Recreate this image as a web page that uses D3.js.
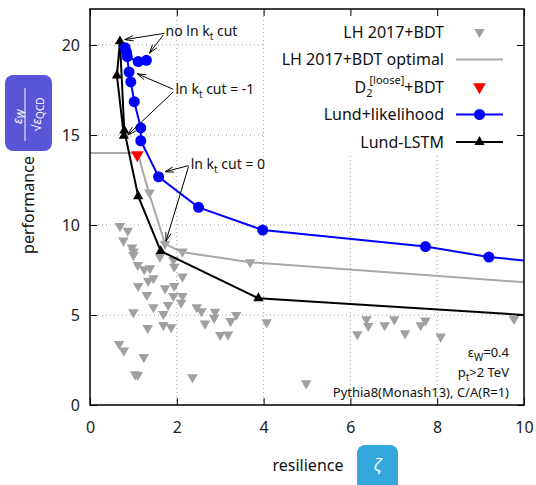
<!DOCTYPE html>
<html>
<head>
<meta charset="utf-8">
<script src="https://cdn.jsdelivr.net/npm/d3@7"></script>
<style>
  body { margin: 0; background: #fff; }
  text { font-family: "Noto Sans", sans-serif; }
</style>
</head>
<body>
<svg width="536" height="485"></svg>
<script>
// tick values for both axes
var xTicks = [0, 2, 4, 6, 8, 10];
var yTicks = [0, 5, 10, 15, 20];

// LH 2017 + BDT scan (grey triangles)
var lhScatter = [
  [0.69, 9.94], [0.87, 9.68], [0.77, 9.13], [0.97, 8.75], [1.0, 8.52], [1.0, 8.33],
  [1.1, 7.78], [1.25, 7.54], [1.38, 7.59], [1.61, 8.24], [1.92, 8.06], [2.13, 8.52],
  [1.94, 7.68], [2.13, 7.13], [1.34, 6.9], [1.46, 7.04], [1.11, 6.61], [1.73, 6.48],
  [1.94, 6.61], [1.31, 6.11], [1.92, 6.06], [2.13, 6.06], [1.46, 5.43], [1.8, 5.56],
  [2.1, 5.68], [1.0, 5.15], [1.69, 5.06], [2.46, 5.43], [2.57, 5.2], [2.88, 5.18],
  [2.86, 4.84], [3.24, 4.66], [3.37, 5.0], [2.65, 4.52], [1.33, 4.27], [1.69, 4.44],
  [1.87, 4.32], [3.0, 3.89], [3.18, 3.91], [0.67, 3.39], [0.78, 3.02], [1.24, 2.66],
  [1.04, 1.7], [1.1, 1.67], [2.36, 1.54], [4.07, 4.59], [4.98, 1.2], [6.37, 4.76],
  [6.41, 4.39], [6.16, 3.93], [6.79, 4.43], [7.01, 4.76], [7.26, 3.98], [7.62, 4.43],
  [7.73, 4.69], [8.08, 3.8], [9.77, 4.78], [1.37, 11.8], [3.69, 7.93], [1.73, 8.95]
];
// optimal envelope of the scan
var lhOptimal = [
  [0, 14.0], [1.1, 14.0], [1.35, 11.85], [1.73, 8.95], [2.11, 8.5], [3.69, 7.93], [10.6, 6.72]
];
// D2 loose + BDT
var d2Point = [[1.09, 13.9]];
// Lund + likelihood
var lundLike = [
  [1.30, 19.15], [1.11, 19.08], [0.86, 19.35], [0.81, 19.85], [0.84, 19.6], [0.90, 18.5],
  [0.94, 17.95], [1.02, 16.85], [1.17, 15.4], [1.17, 14.68], [1.58, 12.68], [2.5, 10.98],
  [3.98, 9.72], [7.73, 8.8], [9.19, 8.22], [11.0, 7.8]
];
// Lund-LSTM
var lundLstm = [
  [0.78, 14.95], [0.62, 18.3], [0.69, 20.2], [0.79, 15.25], [1.11, 11.6], [1.63, 8.55],
  [3.88, 5.93], [11.0, 4.85]
];

// annotation labels and their arrows (data coords: from x,y to x,y)
var noteLabels = [
  { x: 1.74, y: 20.5, a: "no ln k", b: " cut" },
  { x: 1.97, y: 17.28, a: "ln k", b: " cut = -1" },
  { x: 2.32, y: 13.09, a: "ln k", b: " cut = 0" }
];
var noteArrows = [
  [1.72, 20.65, 0.8, 20.3], [1.69, 20.56, 1.37, 19.55],
  [1.92, 17.54, 1.09, 18.4], [1.92, 17.4, 0.87, 15.0],
  [2.27, 13.3, 1.73, 12.96], [2.27, 13.24, 1.75, 9.1]
];

var width = 536, height = 485;
var svg = d3.select("svg");

var x = d3.scaleLinear().domain([0, 10]).range([90, 524]);
var y = d3.scaleLinear().domain([0, 22]).range([405, 9]);

svg.append("defs").append("clipPath").attr("id", "plot")
  .append("rect").attr("x", 90).attr("y", 9).attr("width", 434).attr("height", 396);

// dotted grid
var grid = svg.append("g").attr("stroke", "#a0a0a0").attr("stroke-dasharray", "1,3");
grid.selectAll(".gx").data(xTicks.slice(1, -1)).enter().append("line")
  .attr("x1", d => x(d)).attr("x2", d => x(d)).attr("y1", y(0)).attr("y2", y(22));
grid.selectAll(".gy").data(yTicks.slice(1)).enter().append("line")
  .attr("x1", x(0)).attr("x2", x(10)).attr("y1", d => y(d)).attr("y2", d => y(d));

// key is opaque, hides the grid behind it
svg.append("rect").attr("x", 266).attr("y", 10).attr("width", 257).attr("height", 146).attr("fill", "#fff");

// axes with inward ticks
function styleAxis(g) {
  g.select(".domain").remove();
  g.selectAll(".tick line").attr("stroke", "#000");
  g.selectAll(".tick text").attr("font-size", 16).attr("fill", "#222")
    .attr("font-family", "'Noto Sans', sans-serif");
}
svg.append("g").attr("transform", "translate(0,405)")
  .call(d3.axisBottom(x).tickValues(xTicks).tickSize(-7).tickPadding(17).tickFormat(d3.format("d")))
  .call(styleAxis);
svg.append("g").attr("transform", "translate(0,9)")
  .call(d3.axisTop(x).tickValues(xTicks).tickSize(-7).tickFormat(""))
  .call(styleAxis);
svg.append("g").attr("transform", "translate(90,0)")
  .call(d3.axisLeft(y).tickValues(yTicks).tickSize(-7).tickPadding(10).tickFormat(d3.format("d")))
  .call(styleAxis);
svg.append("g").attr("transform", "translate(524,0)")
  .call(d3.axisRight(y).tickValues(yTicks).tickSize(-7).tickFormat(""))
  .call(styleAxis);

var plot = svg.append("g").attr("clip-path", "url(#plot)");
var line = d3.line().x(d => x(d[0])).y(d => y(d[1]));
var triDown = d3.symbol().type(d3.symbolTriangle);

// grey scan points
plot.selectAll(".lh").data(lhScatter).enter().append("path")
  .attr("d", triDown.size(48)())
  .attr("transform", d => "translate(" + x(d[0]) + "," + y(d[1]) + ") rotate(180)")
  .attr("fill", "#a0a0a0");

plot.append("path").datum(lhOptimal).attr("d", line)
  .attr("fill", "none").attr("stroke", "#a8a8a8").attr("stroke-width", 2);

plot.append("path").datum(lundLstm).attr("d", line)
  .attr("fill", "none").attr("stroke", "#000").attr("stroke-width", 2);
plot.selectAll(".lstm").data(lundLstm).enter().append("path")
  .attr("d", d3.symbol().type(d3.symbolTriangle).size(45)())
  .attr("transform", d => "translate(" + x(d[0]) + "," + y(d[1]) + ")")
  .attr("fill", "#000");

plot.append("path").datum(lundLike).attr("d", line)
  .attr("fill", "none").attr("stroke", "#0000ff").attr("stroke-width", 2);
plot.selectAll(".like").data(lundLike).enter().append("circle")
  .attr("cx", d => x(d[0])).attr("cy", d => y(d[1])).attr("r", 5.5)
  .attr("fill", "#0000ff");

plot.selectAll(".d2").data(d2Point).enter().append("path")
  .attr("d", d3.symbol().type(d3.symbolTriangle).size(70)())
  .attr("transform", d => "translate(" + x(d[0]) + "," + y(d[1]) + ") rotate(180)")
  .attr("fill", "#ff0000");

// border
svg.append("rect").attr("x", 90).attr("y", 9).attr("width", 434).attr("height", 396)
  .attr("fill", "none").attr("stroke", "#000").attr("stroke-width", 1.5);

// annotations
noteArrows.forEach(function (a) {
  var x1 = x(a[0]), y1 = y(a[1]), x2 = x(a[2]), y2 = y(a[3]);
  var ang = Math.atan2(y2 - y1, x2 - x1), L = 9, w = 0.3;
  svg.append("path")
    .attr("d", "M" + x1 + "," + y1 + "L" + x2 + "," + y2 +
      "M" + (x2 - L * Math.cos(ang - w)) + "," + (y2 - L * Math.sin(ang - w)) +
      "L" + x2 + "," + y2 +
      "L" + (x2 - L * Math.cos(ang + w)) + "," + (y2 - L * Math.sin(ang + w)))
    .attr("fill", "none").attr("stroke", "#000").attr("stroke-width", 1);
});
noteLabels.forEach(function (n) {
  var t = svg.append("text").attr("x", x(n.x)).attr("y", y(n.y))
    .attr("font-size", 14).attr("fill", "#111");
  t.append("tspan").text(n.a);
  t.append("tspan").attr("font-size", 10).attr("dy", 4).text("t");
  t.append("tspan").attr("dy", -4).text(n.b);
});

// legend
var keyRows = [32, 59.5, 87, 114.5, 142];
var key = svg.append("g").attr("font-size", 16).attr("fill", "#111");
function keyText(i) {
  return key.append("text").attr("x", 444).attr("y", keyRows[i]).attr("dy", "0.35em")
    .attr("text-anchor", "end").attr("font-size", 16).attr("fill", "#111");
}
keyText(0).text("LH 2017+BDT");
key.append("path").attr("d", triDown.size(48)())
  .attr("transform", "translate(479.5," + keyRows[0] + ") rotate(180)").attr("fill", "#a0a0a0");
keyText(1).text("LH 2017+BDT optimal");
key.append("line").attr("x1", 456).attr("x2", 503).attr("y1", keyRows[1]).attr("y2", keyRows[1])
  .attr("stroke", "#a8a8a8").attr("stroke-width", 2);
var d2t = keyText(2);
d2t.append("tspan").text("D");
d2t.append("tspan").attr("font-size", 11).attr("dy", 4).text("2");
d2t.append("tspan").attr("font-size", 11).attr("dx", -3).attr("dy", -12.5).text("[loose]");
d2t.append("tspan").attr("dy", 8.5).text("+BDT");
key.append("path").attr("d", d3.symbol().type(d3.symbolTriangle).size(70)())
  .attr("transform", "translate(479.5," + keyRows[2] + ") rotate(180)").attr("fill", "#ff0000");
keyText(3).text("Lund+likelihood");
key.append("line").attr("x1", 456).attr("x2", 503).attr("y1", keyRows[3]).attr("y2", keyRows[3])
  .attr("stroke", "#0000ff").attr("stroke-width", 2);
key.append("circle").attr("cx", 479.5).attr("cy", keyRows[3]).attr("r", 5.5).attr("fill", "#0000ff");
keyText(4).text("Lund-LSTM");
key.append("line").attr("x1", 456).attr("x2", 503).attr("y1", keyRows[4]).attr("y2", keyRows[4])
  .attr("stroke", "#000").attr("stroke-width", 2);
key.append("path").attr("d", d3.symbol().type(d3.symbolTriangle).size(45)())
  .attr("transform", "translate(479.5," + keyRows[4] + ")").attr("fill", "#000");

// info text, bottom right
var info = svg.append("g").attr("font-size", 13).attr("fill", "#111").attr("text-anchor", "end");
var i1 = info.append("text").attr("x", 509).attr("y", 357);
i1.append("tspan").text("ε");
i1.append("tspan").attr("font-size", 10).attr("dy", 4).text("W");
i1.append("tspan").attr("dy", -4).text("=0.4");
var i2 = info.append("text").attr("x", 509).attr("y", 377);
i2.append("tspan").text("p");
i2.append("tspan").attr("font-size", 10).attr("dy", 4).text("t");
i2.append("tspan").attr("dy", -4).text(">2 TeV");
info.append("text").attr("x", 509).attr("y", 397).text("Pythia8(Monash13), C/A(R=1)");

// axis titles
svg.append("text").attr("x", 308).attr("y", 471).attr("text-anchor", "middle")
  .attr("font-size", 16).attr("fill", "#111").text("resilience");
svg.append("rect").attr("x", 357).attr("y", 445).attr("width", 41).attr("height", 50)
  .attr("rx", 8).attr("fill", "#34a8dc");
svg.append("text").attr("x", 377.5).attr("y", 471).attr("text-anchor", "middle")
  .attr("font-size", 17).attr("font-style", "italic").attr("fill", "#fff")
  .attr("font-family", "'DejaVu Serif', serif").text("ζ");

svg.append("text").attr("transform", "translate(34,205) rotate(-90)")
  .attr("text-anchor", "middle").attr("font-size", 16).attr("fill", "#111").text("performance");
svg.append("rect").attr("x", 5).attr("y", 75).attr("width", 47).attr("height", 76)
  .attr("rx", 8).attr("fill", "#5a55d6");
var frac = svg.append("g").attr("transform", "translate(28.5,113) rotate(-90)")
  .attr("fill", "#fff").attr("font-family", "'DejaVu Serif', serif");
var num = frac.append("text").attr("x", -4).attr("y", -7).attr("text-anchor", "middle").attr("font-size", 13);
num.append("tspan").attr("font-style", "italic").text("ε");
num.append("tspan").attr("font-size", 10).attr("dy", 3).attr("font-style", "italic").text("W");
frac.append("line").attr("x1", -28).attr("x2", 25).attr("y1", -3.5).attr("y2", -3.5)
  .attr("stroke", "#fff").attr("stroke-width", 1);
var den = frac.append("text").attr("x", -1.5).attr("y", 12).attr("text-anchor", "middle").attr("font-size", 13);
den.append("tspan").text("√");
den.append("tspan").attr("font-style", "italic").text("ε");
den.append("tspan").attr("font-size", 10).attr("dy", 3).text("QCD");
</script>
</body>
</html>
